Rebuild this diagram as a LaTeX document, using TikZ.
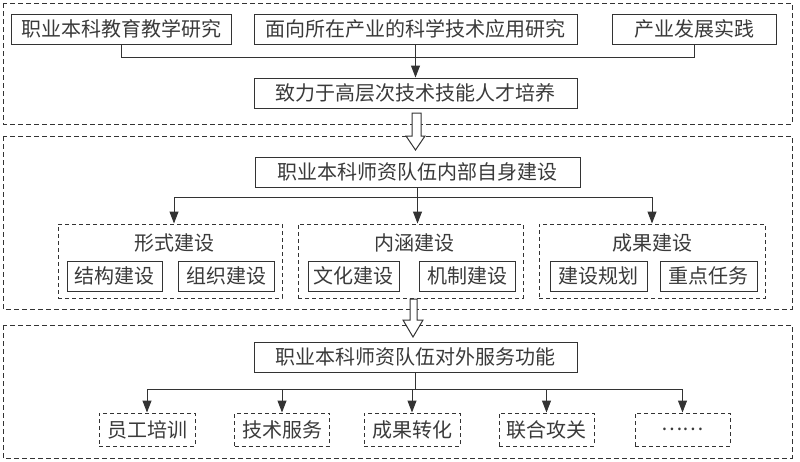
\documentclass[tikz,border=0pt]{standalone}
\usepackage{fontspec}
\newfontfamily\cjk{Noto Sans CJK SC}
\usetikzlibrary{arrows.meta}
\definecolor{ln}{HTML}{333333}
\definecolor{tx}{HTML}{3A3A3A}
\tikzset{
  box/.style={draw=ln, line width=1pt, rectangle, inner sep=0pt, text=tx, font=\cjk\fontsize{20}{23}\selectfont},
  dbox/.style={box, dashed, dash pattern=on 4pt off 3pt},
  panel/.style={draw=ln, line width=0.9pt, dash pattern=on 5pt off 3pt},
  ttl/.style={inner sep=0pt, text=tx, font=\cjk\fontsize{20}{23}\selectfont},
  arr/.style={draw=ln, line width=1pt, -{Triangle[length=12pt,width=9pt]}},
  con/.style={draw=ln, line width=1pt},
  hollow/.style={draw=ln, line width=1pt, fill=white}
}
\begin{document}
\begin{tikzpicture}[x=1pt,y=-1pt]
\useasboundingbox (0,0) rectangle (800,461);
% panels
\draw[panel] (3,3) rectangle (792,124);
\draw[panel] (3,136) rectangle (792,309);
\draw[panel] (3,325) rectangle (792,458);

% panel 1
\node[box, minimum width=220pt, minimum height=30pt] (b1) at (121,29) {职业本科教育教学研究};
\node[box, minimum width=323pt, minimum height=30pt] (b2) at (415.5,29) {面向所在产业的科学技术应用研究};
\node[box, minimum width=164pt, minimum height=30pt] (b3) at (694,29) {产业发展实践};
\node[box, minimum width=323pt, minimum height=30pt] (b4) at (415.5,93) {致力于高层次技术技能人才培养};
\coordinate (j1) at (415.5,57);
\draw[con] (b1.south) -- (b1.south |- j1) -- (b3.south |- j1) -- (b3.south);
\draw[arr] (b2.south) -- (b4.north);

% hollow arrow 1
\draw[hollow] (412,113) -- (421,113) -- (421,136) -- (425,136) -- (415.5,150) -- (406,136) -- (412,136) -- cycle;

% panel 2
\node[box, minimum width=325pt, minimum height=30pt] (b5) at (417.5,172) {职业本科师资队伍内部自身建设};
\node[dbox, minimum width=224pt, minimum height=74pt] (g1) at (170,261) {};
\node[dbox, minimum width=225pt, minimum height=74pt] (g2) at (410.5,261) {};
\node[dbox, minimum width=226pt, minimum height=74pt] (g3) at (652,261) {};
\node[ttl] (t1) at (174,243) {形式建设};
\node[ttl] (t2) at (414,243) {内涵建设};
\node[ttl] (t3) at (652,243) {成果建设};
\node[box, minimum width=95pt, minimum height=30pt] (s1) at (114.5,276) {结构建设};
\node[box, minimum width=96pt, minimum height=30pt] (s2) at (226,276) {组织建设};
\node[box, minimum width=91pt, minimum height=30pt] (s3) at (353.5,276) {文化建设};
\node[box, minimum width=96pt, minimum height=30pt] (s4) at (467,276) {机制建设};
\node[box, minimum width=97pt, minimum height=30pt] (s5) at (598.5,276) {建设规划};
\node[box, minimum width=97pt, minimum height=30pt] (s6) at (708.5,276) {重点任务};
\coordinate (j2) at (416,197);
\draw[con] (b5.south) -- (b5.south |- j2);
\draw[con] (t1 |- j2) -- (t3 |- j2);
\draw[arr] (t1 |- j2) -- (t1 |- g1.north);
\draw[arr] (b5.south |- j2) -- (b5.south |- g2.north);
\draw[arr] (t3 |- j2) -- (t3 |- g3.north);

% hollow arrow 2
\draw[hollow] (410,299) -- (417,299) -- (417,320) -- (423,320) -- (413,337) -- (403,320) -- (410,320) -- cycle;

% panel 3
\node[box, minimum width=323pt, minimum height=30pt] (b6) at (415.5,357) {职业本科师资队伍对外服务功能};
\node[dbox, minimum width=96pt, minimum height=33pt] (l1) at (147,429.5) {员工培训};
\node[dbox, minimum width=95pt, minimum height=33pt] (l2) at (282,429.5) {技术服务};
\node[dbox, minimum width=96pt, minimum height=33pt] (l3) at (412,429.5) {成果转化};
\node[dbox, minimum width=95pt, minimum height=33pt] (l4) at (546.5,429.5) {联合攻关};
\node[dbox, minimum width=95pt, minimum height=33pt] (l5) at (682.5,429.5) {……};
\coordinate (j3) at (415.5,389);
\draw[con] (b6.south) -- (b6.south |- j3);
\draw[con] (l1.north |- j3) -- (l5.north |- j3);
\draw[arr] (l1.north |- j3) -- (l1.north);
\draw[arr] (l2.north |- j3) -- (l2.north);
\draw[arr] (l3.north |- j3) -- (l3.north);
\draw[arr] (l4.north |- j3) -- (l4.north);
\draw[arr] (l5.north |- j3) -- (l5.north);
\end{tikzpicture}
\end{document}
